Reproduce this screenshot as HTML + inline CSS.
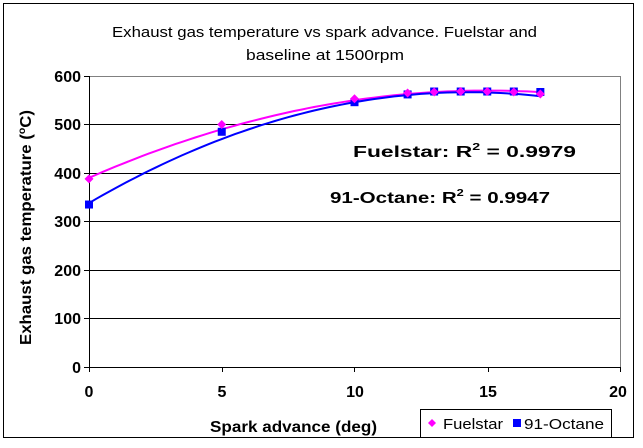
<!DOCTYPE html>
<html><head><meta charset="utf-8"><style>
body{margin:0;background:#fff;}
svg{display:block;font-family:"Liberation Sans",Arial,sans-serif;}
</style></head><body>
<svg id="s" width="643" height="448" viewBox="0 0 643 448">
<rect x="0" y="0" width="643" height="448" fill="#fff"/>
<rect x="3.5" y="3.5" width="630" height="434" fill="none" stroke="#000" stroke-width="1"/>
<text x="112" y="37" font-size="15" textLength="425" lengthAdjust="spacingAndGlyphs">Exhaust gas temperature vs spark advance. Fuelstar and</text>
<text x="246" y="60" font-size="15" textLength="158" lengthAdjust="spacingAndGlyphs">baseline at 1500rpm</text>
<g stroke="#000" stroke-width="1">
<line x1="89" y1="76.5" x2="620" y2="76.5" stroke="#808080"/>
<line x1="89" y1="124.5" x2="620" y2="124.5"/>
<line x1="89" y1="173.5" x2="620" y2="173.5"/>
<line x1="89" y1="221.5" x2="620" y2="221.5"/>
<line x1="89" y1="270.5" x2="620" y2="270.5"/>
<line x1="89" y1="318.5" x2="620" y2="318.5"/>
<line x1="89" y1="367.5" x2="620" y2="367.5"/>
<line x1="620.5" y1="76" x2="620.5" y2="367" stroke="#808080"/>
<line x1="89.5" y1="76" x2="89.5" y2="372"/>
<line x1="84" y1="76.5" x2="89" y2="76.5"/><line x1="84" y1="124.5" x2="89" y2="124.5"/><line x1="84" y1="173.5" x2="89" y2="173.5"/><line x1="84" y1="221.5" x2="89" y2="221.5"/><line x1="84" y1="270.5" x2="89" y2="270.5"/><line x1="84" y1="318.5" x2="89" y2="318.5"/><line x1="84" y1="367.5" x2="89" y2="367.5"/>
<line x1="222.5" y1="367" x2="222.5" y2="372"/><line x1="354.5" y1="367" x2="354.5" y2="372"/><line x1="488.5" y1="367" x2="488.5" y2="372"/><line x1="620.5" y1="367" x2="620.5" y2="372"/>
</g>
<g font-size="16" font-weight="bold" text-anchor="end">
<text x="81" y="82">600</text><text x="81" y="130">500</text><text x="81" y="179">400</text><text x="81" y="227">300</text><text x="81" y="276">200</text><text x="81" y="324">100</text><text x="81" y="373">0</text>
</g>
<g font-size="16" font-weight="bold" text-anchor="middle">
<text x="89" y="397">0</text><text x="222" y="397">5</text><text x="355" y="397">10</text><text x="488" y="397">15</text><text x="618" y="397">20</text>
</g>
<text x="210" y="432" font-size="16" font-weight="bold" textLength="167" lengthAdjust="spacingAndGlyphs">Spark advance (deg)</text>
<text transform="translate(31,345) rotate(-90)" font-size="16" font-weight="bold" textLength="235" lengthAdjust="spacingAndGlyphs">Exhaust gas temperature (<tspan font-size="10" dy="-6">o</tspan><tspan dy="6">C)</tspan></text>
<text x="353" y="157" font-size="16" font-weight="bold" textLength="223" lengthAdjust="spacingAndGlyphs">Fuelstar: R<tspan font-size="10" dy="-7">2</tspan><tspan dy="7"> = 0.9979</tspan></text>
<text x="330" y="203" font-size="16" font-weight="bold" textLength="220" lengthAdjust="spacingAndGlyphs">91-Octane: R<tspan font-size="10" dy="-7">2</tspan><tspan dy="7"> = 0.9947</tspan></text>
<path id="pf" fill="none" stroke="#ff00ff" stroke-width="2"/>
<path id="po" fill="none" stroke="#0000ff" stroke-width="2"/>
<g id="mk"></g>
<rect x="420.5" y="409.5" width="191" height="28" fill="#fff" stroke="#000"/>
<path d="M432 419 L436 423 L432 427 L428 423Z" fill="#ff00ff"/>
<text x="443" y="429" font-size="15" textLength="60" lengthAdjust="spacingAndGlyphs">Fuelstar</text>
<rect x="513" y="419" width="8" height="8" fill="#0000ff"/>
<text x="524" y="429" font-size="15" textLength="80" lengthAdjust="spacingAndGlyphs">91-Octane</text>
</svg>
<script>
function X(v){return 89+v*26.55;}function Y(v){return 367-v*0.485;}
function fit(a,b,c){var d="";for(var x=0;x<=17.01;x+=0.25){var y=a+b*x+c*x*x;d+=(x?"L":"M")+X(x).toFixed(1)+" "+Y(y).toFixed(1);}return d;}
document.getElementById("pf").setAttribute("d",fit(390,24,-0.8));
document.getElementById("po").setAttribute("d",fit(338,32,-1.12));
var F=[[0,388],[5,500],[10,553],[12,565],[13,567],[14,568],[15,568],[16,567],[17,563]];
var O=[[0,335],[5,485],[10,546],[12,562],[13,568],[14,568],[15,568],[16,568],[17,567]];
var g=document.getElementById("mk"),h="";
O.forEach(function(p){var x=X(p[0]),y=Y(p[1]);h+='<rect x="'+(x-4)+'" y="'+(y-4)+'" width="8" height="8" fill="#0000ff"/>';});
F.forEach(function(p){var x=X(p[0]),y=Y(p[1]);h+='<path d="M'+x+' '+(y-4.5)+'L'+(x+4.5)+' '+y+'L'+x+' '+(y+4.5)+'L'+(x-4.5)+' '+y+'Z" fill="#ff00ff"/>';});
g.innerHTML=h;
</script>
</body></html>
